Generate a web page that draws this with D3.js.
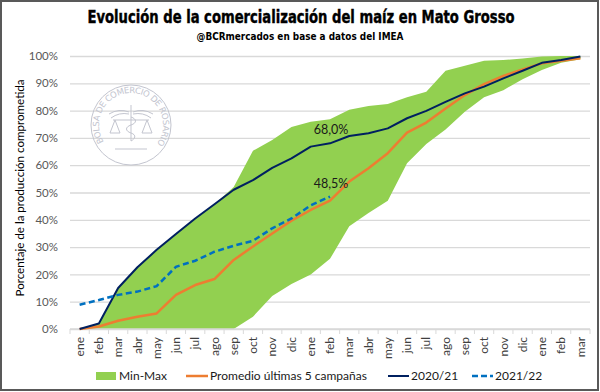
<!DOCTYPE html>
<html><head><meta charset="utf-8">
<script src="https://cdn.jsdelivr.net/npm/d3@7"></script>
<style>
html,body{margin:0;padding:0;background:#fff;}
svg{display:block;}
</style>
</head><body>
<svg id="chart" width="600" height="392"></svg>
<script>
// ---- DATA ----
const months = ["ene","feb","mar","abr","may","jun","jul","ago","sep","oct","nov","dic",
                "ene","feb","mar","abr","may","jun","jul","ago","sep","oct","nov","dic",
                "ene","feb","mar"];
const minVals = [0,0,0,0,0,0,0,0,0,4.5,12.1,16.5,20,25.7,37.6,42.5,47,60.7,67.8,73.1,79.6,84.9,87.5,91.5,94.9,97.5,98.8];
const maxVals = [0,2,15,22.6,29,34.8,40.5,45.7,52,65.3,69.2,74,75.9,76.8,80.3,81.7,82.4,84.9,86.9,94.6,96.4,98.3,98.5,99.1,99.8,100,100];
const promedio = [0,0.9,3,4.5,5.7,12.5,16.1,18.3,25.3,30.2,35,39.7,43.6,47,54,58.9,64.4,71.9,75.6,80.8,85.7,89.7,92.7,95.1,97.3,98.3,99.2];
const c2021 = [0,2,15,22.6,29,34.8,40.5,45.7,51,54.5,59,62.5,66.8,68,70.7,71.7,73.5,77.2,79.9,83.2,86.3,88.8,91.8,94.6,97.5,98.5,99.8];
const c2122 = [8.9,10.6,12.5,13.7,15.7,22.8,25,28.3,30.5,32.3,36.9,40.5,45.3,48.5];
const yTicks = [0,10,20,30,40,50,60,70,80,90,100];
const labels = [{idx:13, series:"c2021", text:"68,0%"},{idx:13, series:"c2122", text:"48,5%"}];
const legendItems = ["Min-Max","Promedio últimas 5 campañas","2020/21","2021/22"];
const title = "Evolución de la comercialización del maíz en Mato Grosso";
const subtitle = "@BCRmercados  en base a datos del IMEA";
const yTitle = "Porcentaje de la producción comprometida";

// ---- CHART ----
const svg = d3.select("#chart");
const FONT = "Lato, 'Open Sans', sans-serif";
const L = 70, R = 590, T = 56, B = 329;
const x = d3.scaleBand().domain(d3.range(months.length)).range([L, R]).padding(0);
const cx = i => x(i) + x.bandwidth()/2;
const y = d3.scaleLinear().domain([0,100]).range([B, T]);

// border
svg.append("rect").attr("x",1).attr("y",1).attr("width",597).attr("height",389)
  .attr("fill","#fff").attr("stroke","#595959").attr("stroke-width",2);

// title
svg.append("text").attr("x",301).attr("y",23).attr("text-anchor","middle")
  .attr("font-family","'Liberation Sans Narrow','DejaVu Sans Condensed',sans-serif")
  .attr("font-weight","bold").attr("font-size",17.5).attr("fill","#000")
  .attr("stroke","#000").attr("stroke-width",0.4)
  .attr("textLength",427).attr("lengthAdjust","spacingAndGlyphs").text(title);
svg.append("text").attr("x",300).attr("y",39.5).attr("text-anchor","middle")
  .attr("font-family","'Liberation Sans Narrow','DejaVu Sans Condensed',sans-serif")
  .attr("font-weight","bold").attr("font-size",11).attr("fill","#000")
  .attr("textLength",207).attr("lengthAdjust","spacingAndGlyphs").text(subtitle);

// y axis + grid
const yAxis = svg.append("g").attr("transform",`translate(${L},0)`)
  .call(d3.axisLeft(y).tickValues(yTicks).tickFormat(d=>d+"%").tickSize(-(R-L)).tickPadding(12));
yAxis.select(".domain").remove();
yAxis.selectAll(".tick line").attr("stroke","#d9d9d9").attr("stroke-width",1.3);
yAxis.selectAll(".tick text").attr("font-family",FONT).attr("font-size",11.5).attr("fill","#595959");

// watermark
const wmC = "#c3c5cf";
const wm = svg.append("g").attr("transform","translate(131,125)").attr("fill","none")
  .attr("stroke",wmC).attr("stroke-width",1);
wm.append("circle").attr("r",40);
const rT = 32;
const a0 = -122*Math.PI/180, a1 = 130*Math.PI/180;
const arcPath = `M${rT*Math.sin(a0)},${-rT*Math.cos(a0)} A${rT},${rT} 0 1 1 ${rT*Math.sin(a1)},${-rT*Math.cos(a1)}`;
svg.append("defs").append("path").attr("id","wmarc").attr("d",arcPath).attr("transform","translate(131,125)");
svg.append("text").attr("font-family","'DejaVu Sans',sans-serif").attr("font-size",8.5).attr("fill",wmC)
  .append("textPath").attr("href","#wmarc").attr("textLength",138).attr("lengthAdjust","spacing")
  .text("BOLSA DE COMERCIO DE ROSARIO");
// emblem: staff, wings, scales
wm.append("line").attr("x1",0).attr("y1",-20).attr("x2",0).attr("y2",16);
wm.append("path").attr("d","M-2,-13 Q-12,-17 -22,-11 M-2,-11 Q-12,-13 -20,-7 M2,-13 Q12,-17 22,-11 M2,-11 Q12,-13 20,-7");
wm.append("line").attr("x1",-18).attr("y1",-5).attr("x2",18).attr("y2",-5);
wm.append("path").attr("d","M-16,-5 L-21,8 L-11,8 Z M16,-5 L11,8 L21,8 Z");
wm.append("path").attr("d","M0,-8 C6,-6 6,-2 0,0 C-6,2 -6,6 0,8 C6,10 4,14 0,16");
wm.append("line").attr("x1",-16).attr("y1",24).attr("x2",16).attr("y2",24);

// min-max area
svg.append("path")
  .attr("fill","#92d050")
  .attr("d", d3.area().x(i=>cx(i)).y0(i=>y(minVals[i])).y1(i=>y(maxVals[i]))(d3.range(months.length)));

// x axis baseline & ticks
svg.append("line").attr("x1",L).attr("x2",R).attr("y1",B).attr("y2",B).attr("stroke","#d9d9d9").attr("stroke-width",1.3);
svg.append("g").selectAll("line").data(d3.range(months.length+1)).join("line")
  .attr("x1",i=> i<months.length ? x(i) : R).attr("x2",i=> i<months.length ? x(i) : R)
  .attr("y1",B).attr("y2",B+5).attr("stroke","#d9d9d9").attr("stroke-width",1);
svg.append("g").selectAll("text").data(months).join("text")
  .attr("transform",(d,i)=>`translate(${cx(i)},337) rotate(-90)`)
  .attr("text-anchor","end").attr("dy","0.35em")
  .attr("font-family",FONT).attr("font-size",12).attr("fill","#404040").text(d=>d);

// lines
const line = d3.line().x((d,i)=>cx(i)).y(d=>y(d));
svg.append("path").datum(promedio).attr("fill","none").attr("stroke","#ed7d31").attr("stroke-width",2.5)
  .attr("stroke-linejoin","round").attr("d",line);
svg.append("path").datum(c2021).attr("fill","none").attr("stroke","#002060").attr("stroke-width",2)
  .attr("stroke-linejoin","round").attr("d",line);
svg.append("path").datum(c2122).attr("fill","none").attr("stroke","#0070c0").attr("stroke-width",2.5)
  .attr("stroke-dasharray","6,3.5").attr("d",line);

// data labels
const seriesMap = {c2021, c2122};
svg.append("g").selectAll("text").data(labels).join("text")
  .attr("x",d=>cx(d.idx)+1).attr("y",d=> y(seriesMap[d.series][d.idx])-9)
  .attr("text-anchor","middle").attr("font-family",FONT).attr("font-size",12.5).attr("fill","#1a1a1a").text(d=>d.text);

// y title
svg.append("text").attr("transform","translate(20,188) rotate(-90)").attr("text-anchor","middle")
  .attr("dy","0.35em").attr("font-family",FONT).attr("font-size",12).attr("fill","#000")
  .attr("textLength",217).attr("lengthAdjust","spacingAndGlyphs").text(yTitle);

// legend
const lg = svg.append("g").attr("font-family",FONT).attr("font-size",12).attr("fill","#1a1a1a");
const ly = 376;
lg.append("rect").attr("x",96).attr("y",ly-4).attr("width",20).attr("height",8).attr("fill","#92d050");
lg.append("text").attr("x",119).attr("y",ly).attr("dy","0.35em").text(legendItems[0]);
lg.append("line").attr("x1",186).attr("x2",208).attr("y1",ly).attr("y2",ly).attr("stroke","#ed7d31").attr("stroke-width",2.5);
lg.append("text").attr("x",210).attr("y",ly).attr("dy","0.35em").text(legendItems[1]);
lg.append("line").attr("x1",388).attr("x2",409).attr("y1",ly).attr("y2",ly).attr("stroke","#002060").attr("stroke-width",2);
lg.append("text").attr("x",411).attr("y",ly).attr("dy","0.35em").text(legendItems[2]);
lg.append("line").attr("x1",472).attr("x2",493).attr("y1",ly).attr("y2",ly).attr("stroke","#0070c0").attr("stroke-width",2.5).attr("stroke-dasharray","6,3");
lg.append("text").attr("x",495).attr("y",ly).attr("dy","0.35em").text(legendItems[3]);
</script>
</body></html>
